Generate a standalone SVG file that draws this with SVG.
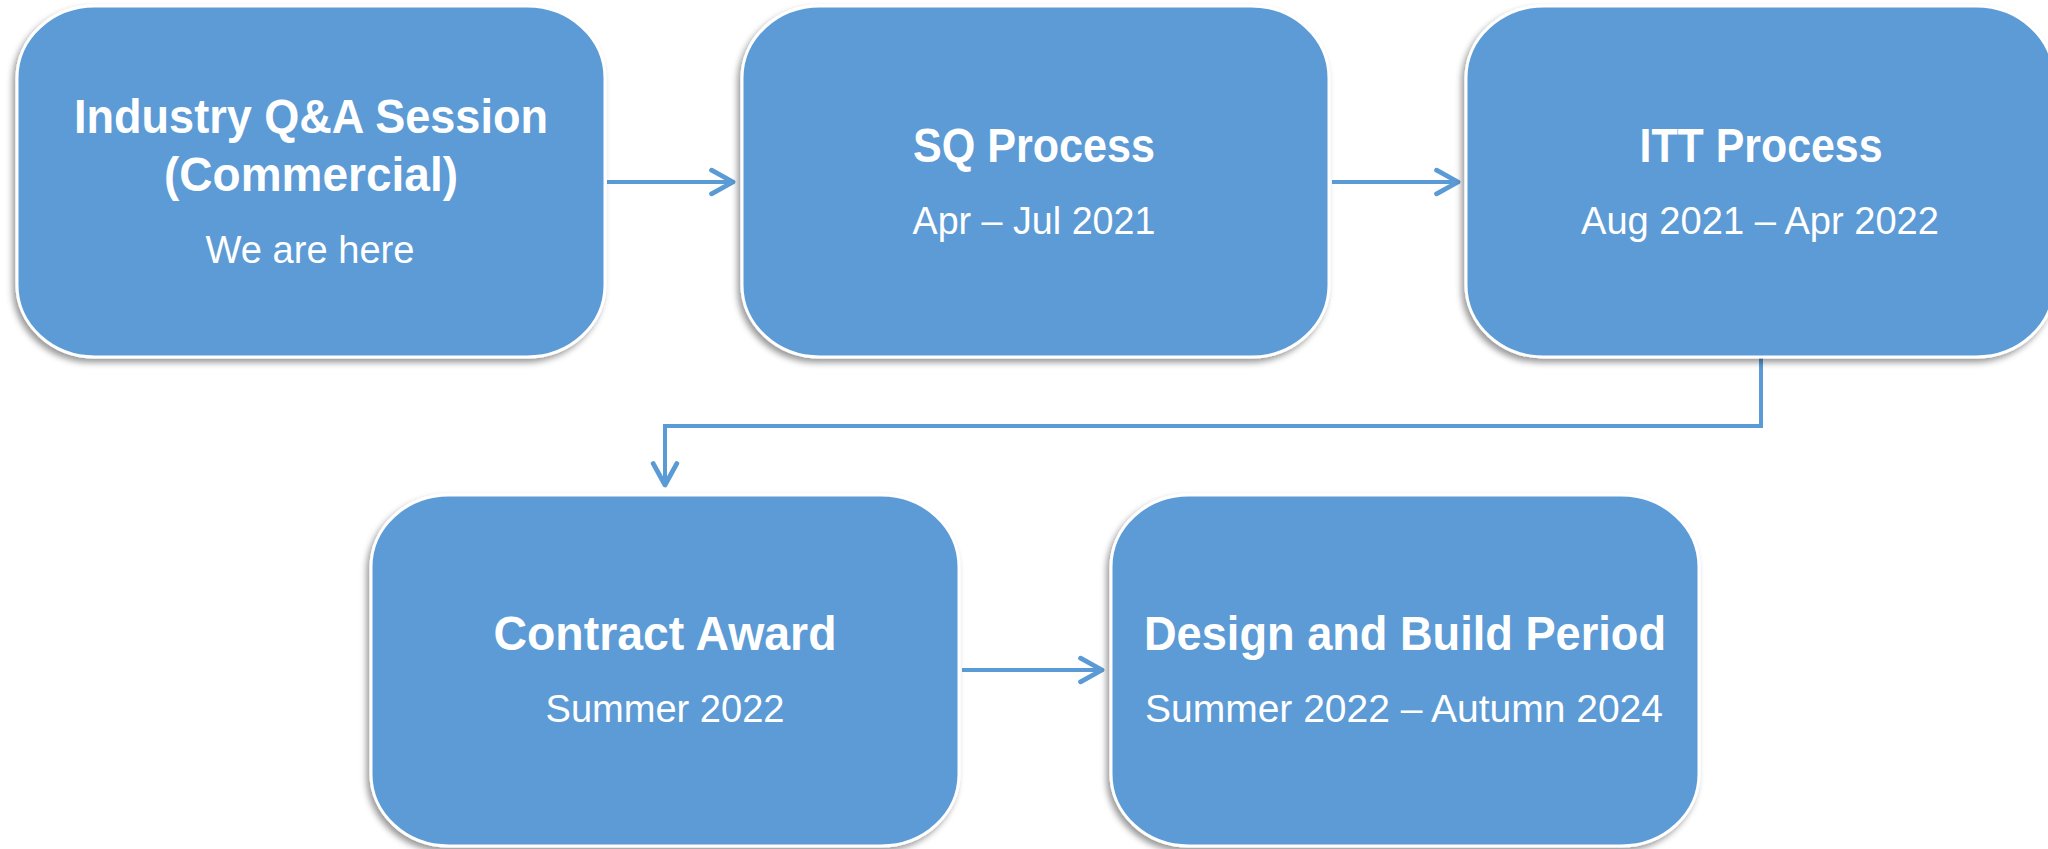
<svg xmlns="http://www.w3.org/2000/svg" width="2048" height="849" viewBox="0 0 2048 849">
<style>
.box{fill:#5B9BD5;stroke:#FFFFFF;stroke-width:3;filter:url(#sh)}
.t{font-family:"Liberation Sans",Arial,sans-serif;fill:#FFFFFF;text-anchor:middle}
.b{font-weight:bold;font-size:49px}
.r{font-size:39px}
.c{fill:none;stroke:#5B9BD5;stroke-width:4;marker-end:url(#ah)}
</style>
<defs>
<filter id="sh" x="-10%" y="-10%" width="120%" height="125%">
<feDropShadow dx="-3" dy="4" stdDeviation="3" flood-color="#000" flood-opacity="0.4"/>
</filter>
<marker id="ah" markerUnits="userSpaceOnUse" markerWidth="30" markerHeight="30" viewBox="-24 -14 28 28" refX="0" refY="0" orient="auto">
<path d="M -20 -11 L 0 0 L -20 11" fill="none" stroke="#5B9BD5" stroke-width="4.5" stroke-linecap="round" stroke-linejoin="round"/>
</marker>
</defs>
<rect width="2048" height="849" fill="#FFFFFF"/>
<g id="connectors">
<path class="c" d="M 607 182 H 733"/>
<path class="c" d="M 1332 182 H 1458"/>
<path class="c" d="M 1761 358 V 426 H 665 V 485"/>
<path class="c" d="M 962 670 H 1102"/>
</g>
<g id="n1">
<rect class="box" x="17" y="6" width="588" height="351" rx="78" ry="72"/>
<text class="t b" x="311" y="133" textLength="474" lengthAdjust="spacingAndGlyphs">Industry Q&amp;A Session</text>
<text class="t b" x="311" y="191" textLength="294" lengthAdjust="spacingAndGlyphs">(Commercial)</text>
<text class="t r" x="310" y="263" textLength="209" lengthAdjust="spacingAndGlyphs">We are here</text>
</g>
<g id="n2">
<rect class="box" x="742" y="6" width="587" height="351" rx="78" ry="72"/>
<text class="t b" x="1034" y="162" textLength="242" lengthAdjust="spacingAndGlyphs">SQ Process</text>
<text class="t r" x="1034" y="234" textLength="243" lengthAdjust="spacingAndGlyphs">Apr – Jul 2021</text>
</g>
<g id="n3">
<rect class="box" x="1466" y="6" width="588" height="351" rx="78" ry="72"/>
<text class="t b" x="1761" y="162" textLength="243" lengthAdjust="spacingAndGlyphs">ITT Process</text>
<text class="t r" x="1760" y="234" textLength="358" lengthAdjust="spacingAndGlyphs">Aug 2021 – Apr 2022</text>
</g>
<g id="n4">
<rect class="box" x="371" y="495" width="588" height="351" rx="78" ry="72"/>
<text class="t b" x="665" y="650" textLength="343" lengthAdjust="spacingAndGlyphs">Contract Award</text>
<text class="t r" x="665" y="722" textLength="239" lengthAdjust="spacingAndGlyphs">Summer 2022</text>
</g>
<g id="n5">
<rect class="box" x="1111" y="495" width="588" height="351" rx="78" ry="72"/>
<text class="t b" x="1405" y="650" textLength="522" lengthAdjust="spacingAndGlyphs">Design and Build Period</text>
<text class="t r" x="1404" y="722" textLength="518" lengthAdjust="spacingAndGlyphs">Summer 2022 – Autumn 2024</text>
</g>
</svg>
